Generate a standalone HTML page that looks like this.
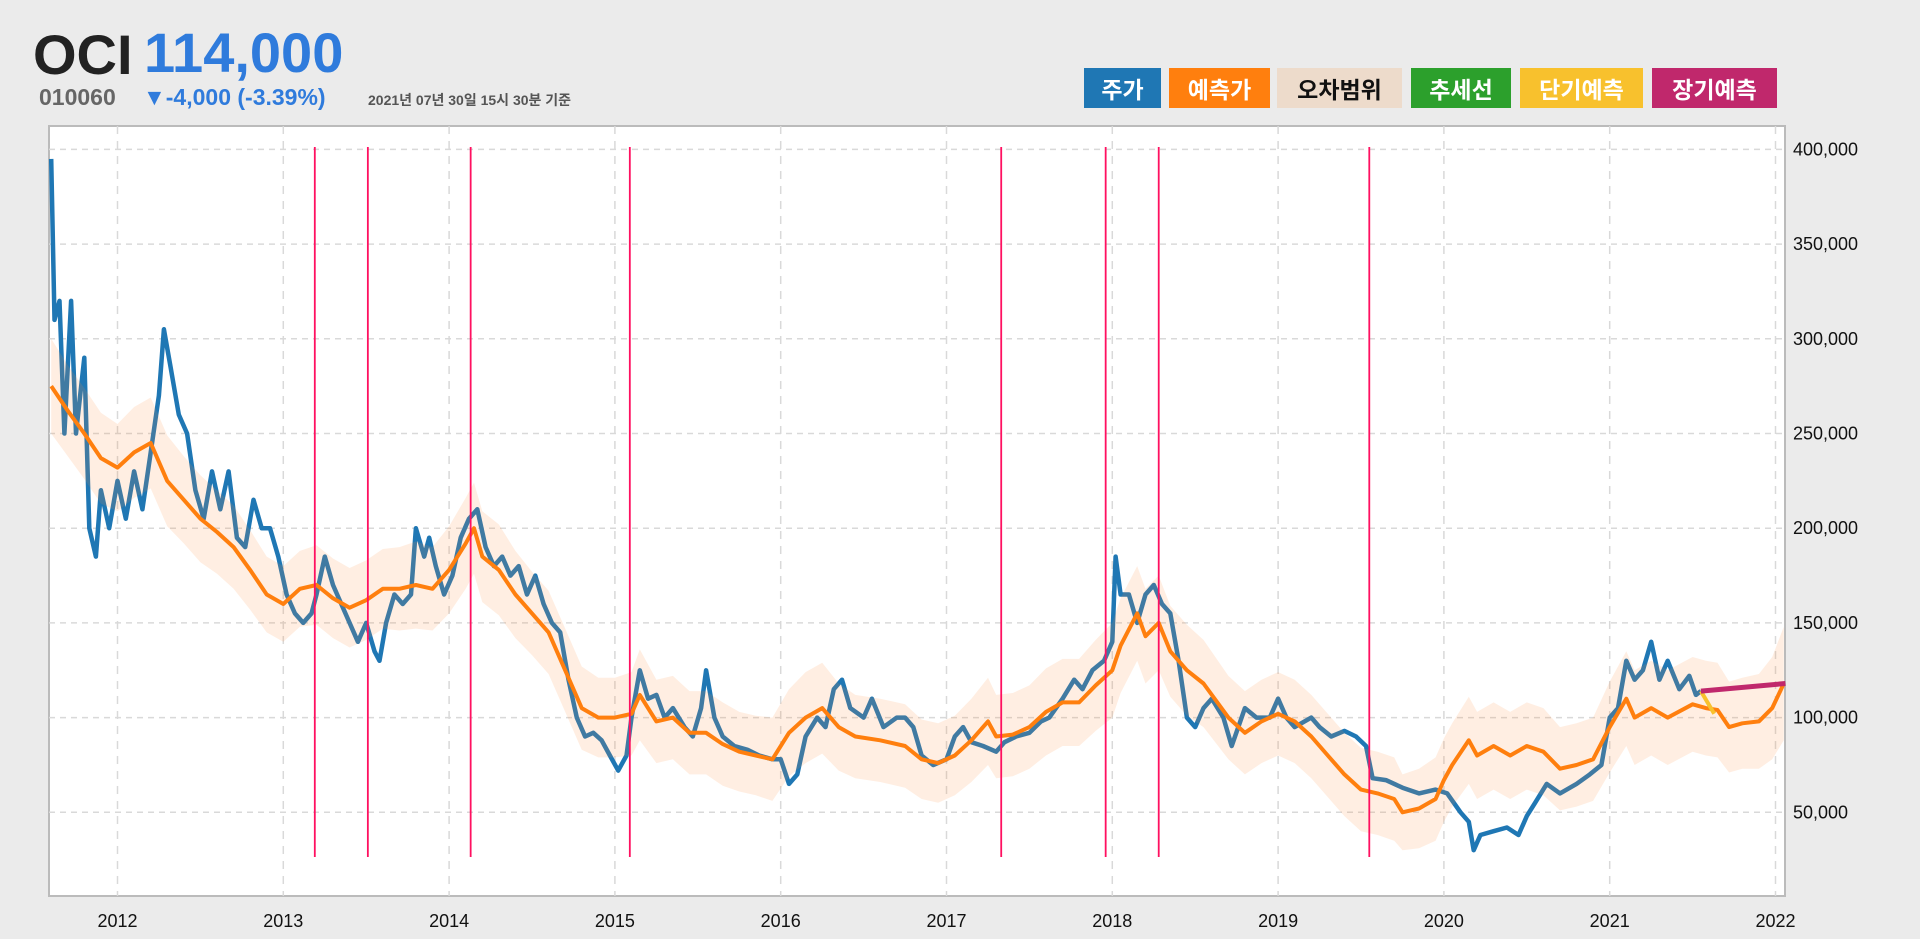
<!DOCTYPE html>
<html><head><meta charset="utf-8">
<style>
html,body{margin:0;padding:0;background:#ebebeb;width:1920px;height:939px;overflow:hidden;font-family:"Liberation Sans","Noto Sans CJK KR",sans-serif;}
.hdr{position:absolute;font-weight:bold;white-space:nowrap;}
.btn{position:absolute;top:68px;height:40px;line-height:40px;text-align:center;font-weight:bold;font-size:23px;color:#fff;font-family:"Noto Sans CJK KR",sans-serif;}
</style></head><body>
<div class="hdr" style="left:33px;top:22px;font-size:56px;color:#222;">OCI</div>
<div class="hdr" style="left:144px;top:20px;font-size:56px;color:#2f7bdc;">114,000</div>
<div class="hdr" style="left:39px;top:84px;font-size:23px;color:#666;">010060</div>
<div class="hdr" style="left:143px;top:84px;font-size:23px;color:#2f7bdc;">▼-4,000 (-3.39%)</div>
<div class="hdr" style="left:368px;top:90px;font-size:14px;color:#555;font-family:'Liberation Sans','Noto Sans CJK KR',sans-serif;">2021년 07년 30일 15시 30분 기준</div>

<div class="btn" style="left:1084px;width:77px;background:#1f77b4;">주가</div>
<div class="btn" style="left:1169px;width:101px;background:#ff7f0e;">예측가</div>
<div class="btn" style="left:1277px;width:125px;background:#eddbcb;color:#111;">오차범위</div>
<div class="btn" style="left:1411px;width:100px;background:#2ca02c;">추세선</div>
<div class="btn" style="left:1520px;width:123px;background:#f8c12d;">단기예측</div>
<div class="btn" style="left:1652px;width:125px;background:#c0286c;">장기예측</div>

<svg id="chart" width="1920" height="939" style="position:absolute;left:0;top:0;" xmlns="http://www.w3.org/2000/svg"></svg>
<script>
const priceT=[2011.60,2011.62,2011.65,2011.68,2011.72,2011.75,2011.8,2011.83,2011.87,2011.9,2011.95,2012.0,2012.05,2012.1,2012.15,2012.2,2012.25,2012.28,2012.32,2012.37,2012.42,2012.47,2012.52,2012.57,2012.62,2012.67,2012.72,2012.77,2012.82,2012.87,2012.92,2012.97,2013.02,2013.07,2013.12,2013.17,2013.2,2013.25,2013.3,2013.35,2013.4,2013.45,2013.5,2013.55,2013.58,2013.62,2013.67,2013.72,2013.77,2013.8,2013.85,2013.88,2013.92,2013.97,2014.02,2014.07,2014.12,2014.17,2014.22,2014.27,2014.32,2014.37,2014.42,2014.47,2014.52,2014.57,2014.62,2014.67,2014.72,2014.77,2014.82,2014.87,2014.92,2014.97,2015.02,2015.07,2015.1,2015.15,2015.2,2015.25,2015.3,2015.35,2015.42,2015.47,2015.52,2015.55,2015.6,2015.65,2015.72,2015.8,2015.87,2015.95,2016.0,2016.05,2016.1,2016.15,2016.22,2016.27,2016.32,2016.37,2016.42,2016.5,2016.55,2016.62,2016.7,2016.75,2016.8,2016.85,2016.92,2017.0,2017.05,2017.1,2017.15,2017.22,2017.3,2017.35,2017.42,2017.5,2017.57,2017.62,2017.7,2017.77,2017.82,2017.88,2017.95,2018.0,2018.02,2018.05,2018.1,2018.15,2018.2,2018.25,2018.3,2018.35,2018.4,2018.45,2018.5,2018.55,2018.6,2018.67,2018.72,2018.8,2018.87,2018.95,2019.0,2019.05,2019.1,2019.2,2019.25,2019.32,2019.4,2019.47,2019.53,2019.57,2019.65,2019.75,2019.85,2019.95,2020.02,2020.1,2020.15,2020.18,2020.22,2020.3,2020.38,2020.45,2020.5,2020.55,2020.62,2020.7,2020.8,2020.88,2020.95,2021.0,2021.05,2021.1,2021.15,2021.2,2021.25,2021.3,2021.35,2021.42,2021.48,2021.52,2021.55];
const priceV=[395,310,320,250,320,250,290,200,185,220,200,225,205,230,210,240,270,305,285,260,250,220,205,230,210,230,195,190,215,200,200,185,165,155,150,155,165,185,170,160,150,140,150,135,130,150,165,160,165,200,185,195,180,165,175,195,205,210,190,180,185,175,180,165,175,160,150,145,120,100,90,92,88,80,72,80,100,125,110,112,100,105,95,90,105,125,100,90,85,83,80,78,78,65,70,90,100,95,115,120,105,100,110,95,100,100,95,80,75,78,90,95,87,85,82,87,90,92,98,100,110,120,115,125,130,140,185,165,165,150,165,170,160,155,130,100,95,105,110,100,85,105,100,100,110,100,95,100,95,90,93,90,85,68,67,63,60,62,60,50,45,30,38,40,42,38,48,55,65,60,65,70,75,100,105,130,120,125,140,120,130,115,122,112,114];
const predT=[2011.6,2011.7,2011.8,2011.9,2012.0,2012.1,2012.2,2012.3,2012.4,2012.5,2012.6,2012.7,2012.8,2012.9,2013.0,2013.1,2013.2,2013.3,2013.4,2013.5,2013.6,2013.7,2013.8,2013.9,2014.0,2014.1,2014.15,2014.2,2014.3,2014.4,2014.5,2014.6,2014.7,2014.8,2014.9,2015.0,2015.1,2015.15,2015.25,2015.35,2015.45,2015.55,2015.65,2015.75,2015.85,2015.95,2016.05,2016.15,2016.25,2016.35,2016.45,2016.6,2016.75,2016.85,2016.95,2017.05,2017.15,2017.25,2017.3,2017.4,2017.5,2017.6,2017.7,2017.8,2017.9,2018.0,2018.05,2018.15,2018.2,2018.28,2018.35,2018.45,2018.55,2018.7,2018.8,2018.9,2019.0,2019.1,2019.2,2019.3,2019.4,2019.5,2019.6,2019.7,2019.75,2019.85,2019.95,2020.0,2020.05,2020.15,2020.2,2020.3,2020.4,2020.5,2020.6,2020.7,2020.8,2020.9,2021.0,2021.1,2021.15,2021.25,2021.35,2021.5,2021.58,2021.65,2021.72,2021.8,2021.9,2021.98,2022.05];
const predV=[275,262,250,237,232,240,245,225,215,205,198,190,178,165,160,168,170,163,158,162,168,168,170,168,178,192,200,185,178,165,155,145,125,105,100,100,102,112,98,100,92,92,86,82,80,78,92,100,105,95,90,88,85,78,76,80,88,98,90,91,95,103,108,108,117,125,138,155,143,150,135,125,118,100,92,98,102,98,90,80,70,62,60,57,50,52,57,67,75,88,80,85,80,85,82,73,75,78,95,110,100,105,100,107,105,104,95,97,98,105,118];
const bandHalf=[25,24,24,24,23,24,24,24,23,23,22,22,21,20,20,20,21,21,21,21,21,22,23,22,23,24,24,24,24,23,22,22,22,22,21,21,22,24,22,22,22,22,22,21,21,22,23,24,24,23,22,22,22,21,21,21,22,23,22,22,22,23,23,23,24,25,25,25,25,25,24,24,23,22,22,22,22,22,22,22,22,22,22,22,20,21,22,22,22,23,23,23,23,23,23,22,22,22,24,25,25,25,25,25,25,25,24,24,25,27,30];
const shortT=[2021.55,2021.63], shortV=[114,102];
const longT=[2021.55,2022.06], longV=[114,118];
const eventT=[2013.19,2013.51,2014.13,2015.09,2017.33,2017.96,2018.28,2019.55];
const yTicks=[50,100,150,200,250,300,350,400];
const yLabels=["50,000","100,000","150,000","200,000","250,000","300,000","350,000","400,000"];
const xTicks=[2012,2013,2014,2015,2016,2017,2018,2019,2020,2021,2022];

const X=t=>117.5+(t-2012)*165.8;
const Y=v=>149.4+(400-v)/50*94.7;
const L=49,R=1785,T=126,B=896;
const svg=document.getElementById('chart');
const NS='http://www.w3.org/2000/svg';
function mk(tag,attrs){const e=document.createElementNS(NS,tag);for(const k in attrs)e.setAttribute(k,attrs[k]);svg.appendChild(e);return e;}
let e=mk('rect',{x:L,y:T,width:R-L,height:B-T,fill:'#fff',stroke:'#bbb','stroke-width':2});


yTicks.forEach((v,i)=>{
  let g=mk('line',{x1:L,x2:R,y1:Y(v),y2:Y(v),stroke:'#d9d9d9','stroke-width':1.5,'stroke-dasharray':'6,5'});
  
  
  let t=mk('text',{x:R+8,y:Y(v)+6,'font-size':18,fill:'#111','font-family':'Liberation Sans, sans-serif'});
  t.textContent=yLabels[i];
  
  
});
xTicks.forEach(y=>{
  let g=mk('line',{x1:X(y),x2:X(y),y1:T,y2:B,stroke:'#d9d9d9','stroke-width':1.5,'stroke-dasharray':'8,7'});
  
  
  let t=mk('text',{x:X(y),y:927,'font-size':18,fill:'#111','text-anchor':'middle','font-family':'Liberation Sans, sans-serif'});
  t.textContent=y;
  
  
});
function pts(ts,vs){return ts.map((t,i)=>X(t).toFixed(1)+','+Y(vs[i]).toFixed(1)).join(' ');}
e=mk('polyline',{points:pts(priceT,priceV),fill:'none',stroke:'#1f77b4','stroke-width':4.5,'stroke-linejoin':'round'});


const up=predV.map((v,i)=>v+bandHalf[i]), lo=predV.map((v,i)=>v-bandHalf[i]);
const bandPts=pts(predT,up)+' '+predT.map((t,i)=>X(t).toFixed(1)+','+Y(lo[i]).toFixed(1)).reverse().join(' ');
e=mk('polygon',{points:bandPts,fill:'rgba(255,140,60,0.15)'});


e=mk('polyline',{points:pts(predT,predV),fill:'none',stroke:'#ff7f0e','stroke-width':4,'stroke-linejoin':'round'});


e=mk('polyline',{points:pts(shortT,shortV),fill:'none',stroke:'#f8c12d','stroke-width':4});


e=mk('polyline',{points:pts(longT,longV),fill:'none',stroke:'#c0286c','stroke-width':5});


eventT.forEach(t=>{
  let l=mk('line',{x1:X(t),x2:X(t),y1:147,y2:857,stroke:'#ff1060','stroke-width':1.8});
  
  
});
</script>
</body></html>
